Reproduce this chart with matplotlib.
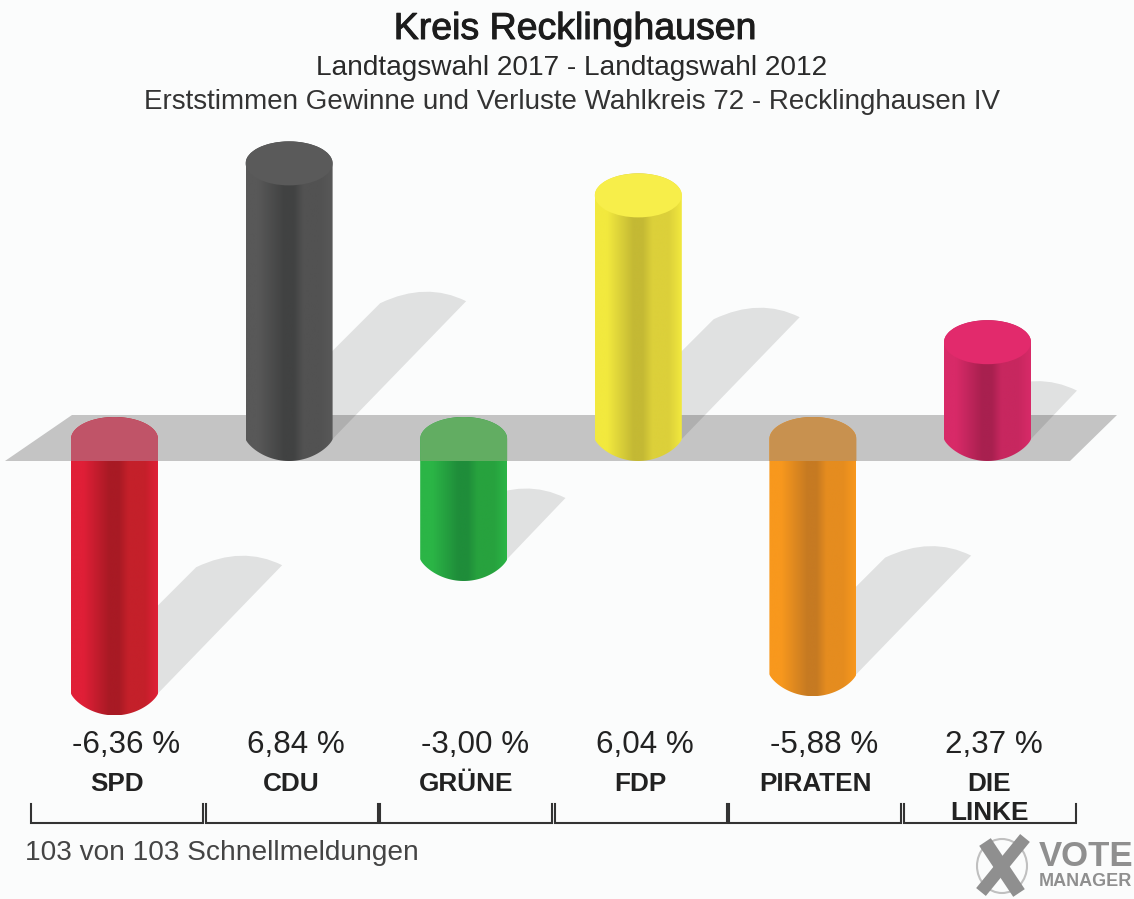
#!/usr/bin/env python3
# -*- coding: utf-8 -*-
import numpy as np
import matplotlib
matplotlib.use('Agg')
import matplotlib.pyplot as plt
import matplotlib.patheffects as pe
from matplotlib.colors import LinearSegmentedColormap
from matplotlib.path import Path
from matplotlib.patches import PathPatch, Polygon, Ellipse

plt.rcParams['font.family'] = ['Liberation Sans', 'DejaVu Sans']

# data
parties = ['SPD', 'CDU', 'GRÜNE', 'FDP', 'PIRATEN', 'DIE\nLINKE']
values = [-6.36, 6.84, -3.00, 6.04, -5.88, 2.37]
value_labels = ['-6,36 %', '6,84 %', '-3,00 %', '6,04 %', '-5,88 %', '2,37 %']
title = 'Kreis Recklinghausen'
subtitle1 = 'Landtagswahl 2017 - Landtagswahl 2012'
subtitle2 = 'Erststimmen Gewinne und Verluste Wahlkreis 72 - Recklinghausen IV'
footer = '103 von 103 Schnellmeldungen'

# colours: edge, centre, right side, top cap
edge_cols = ['#e01f37', '#585858', '#2bb546', '#f2e93e', '#f8981d', '#d82a68']
mid_cols = ['#a81a24', '#414242', '#1f8d3a', '#c4b934', '#c67a22', '#a8204f']
right_cols = ['#c4202a', '#525252', '#27a23e', '#dcd03a', '#e58c1f', '#c7275f']
cap_cols = ['#c05468', '#5a5a5a', '#62ad62', '#f7ee4a', '#c8914f', '#e22a6c']

# scales: 1 x unit = one party, 1 y unit = one percent point
W, H = 1134, 899
PX_X = 174.6
PX_Y = 40.0
X0 = 114.5
Y0 = 439.0

def py(p):
    # picture row -> value
    return (Y0 - p) / PX_Y

def dx(p):
    return p / PX_X

def dy(p):
    return p / PX_Y

fig = plt.figure(figsize=(W / 100, H / 100), dpi=100, facecolor='#fbfcfc')
ax = fig.add_axes([0, 0, 1, 1])
ax.set_xlim(-X0 / PX_X, (W - X0) / PX_X)
ax.set_ylim(py(H), py(0))
ax.axis('off')

# grey floor band
ax.add_patch(Polygon([(dx(5 - X0), py(461)), (dx(72 - X0), py(415)),
                      (dx(1117 - X0), py(415)), (dx(1070 - X0), py(461))],
                     closed=True, fc='#c4c4c4', ec='none', zorder=1))

half_w = dx(43.5)
ry = dy(22)
lift = dy(2)  # lids of rising columns sit a little higher

for i, v in enumerate(values):
    bar_h = abs(v) * PX_Y
    # shadow lying behind the bar
    base = min(v, 0)
    top = base + dy(0.5 * bar_h + 33 - 22)
    reach = 0.49 * bar_h + 43
    left = i + dx(reach - 86)
    verts = [(i, base),
             (i, top - dy(12) - dy(max(reach - 86, 0))),
             (left, top - dy(12)),
             (i + dx(reach - 40), top + dy(10)),
             (i + dx(reach), top - dy(10)),
             (i + half_w, base),
             (i, base)]
    codes = [Path.MOVETO, Path.LINETO, Path.LINETO, Path.CURVE3, Path.CURVE3,
             Path.LINETO, Path.CLOSEPOLY]
    ax.add_patch(PathPatch(Path(verts, codes), fc='black', alpha=0.105, ec='none', zorder=2))

    # cylinder body with side shading
    t = np.linspace(np.pi, 2 * np.pi, 60)
    low = min(v, 0)
    high = max(v, 0) + (lift if v >= 0 else 0)
    xs = i + half_w * np.cos(t)
    # bottom end comes to a sharper shoulder than a plain ellipse
    ys_low = low - ry * np.abs(np.sin(t)) ** 1.5
    ys_high = high + ry * np.abs(np.sin(t))
    outline = list(zip(xs, ys_low)) + list(zip(xs[::-1], ys_high[::-1]))
    clip = Polygon(outline, closed=True, transform=ax.transData, fc='none', ec='none')
    ax.add_patch(clip)
    cmap = LinearSegmentedColormap.from_list(
        'c%d' % i, [(0, edge_cols[i]), (0.14, edge_cols[i]), (0.44, mid_cols[i]),
                    (0.55, mid_cols[i]), (0.66, right_cols[i]), (0.85, right_cols[i]),
                    (1, edge_cols[i])])
    im = ax.imshow(np.linspace(0, 1, 256)[None, :], cmap=cmap, aspect='auto',
                   extent=(i - half_w, i + half_w, low - ry, high + ry),
                   interpolation='bilinear', zorder=3)
    im.set_clip_path(clip)

    if v >= 0:
        # lighter lid on top of the column
        ax.add_patch(Ellipse((i, high), 2 * half_w, 2 * ry, fc=cap_cols[i], ec='none', zorder=4))
    else:
        # upper part of a falling column seen through the band
        t2 = np.linspace(0, np.pi, 40)
        lid = list(zip(i + half_w * np.cos(t2), ry * np.sin(t2)))
        lid += [(i - half_w, py(461)), (i + half_w, py(461))]
        ax.add_patch(Polygon(lid, closed=True, fc=cap_cols[i], ec='none', zorder=4))

    # labels and group bracket
    ax.text(i - half_w + dx(1), py(745), value_labels[i], ha='left', va='center',
            fontsize=22.6, color='#222222')
    if '\n' in parties[i]:
        first, second = parties[i].split('\n')
        ax.text(i + dx(2), py(784), first, ha='center', va='center', fontsize=18.8,
                fontweight='bold', color='#222222')
        ax.text(i + dx(2), py(813), second, ha='center', va='center', fontsize=18.8,
                fontweight='bold', color='#222222')
    else:
        ax.text(i + dx(2.5), py(784), parties[i], ha='center', va='center', fontsize=18.8,
                fontweight='bold', color='#222222')
    x1 = i + dx(2.5) - dx(86)
    x2 = i + dx(2.5) + dx(86)
    ax.plot([x1, x1, x2, x2], [py(804), py(823), py(823), py(804)], color='#333333',
            lw=1.5, solid_joinstyle='miter', zorder=5)

# headings and footer
ax.text(dx(575 - X0), py(29), title, ha='center', va='center', fontsize=27, color='#1c1c1c',
        path_effects=[pe.withStroke(linewidth=0.7, foreground='#1c1c1c')])
ax.text(dx(572 - X0), py(68), subtitle1, ha='center', va='center', fontsize=20.2, color='#2a2a2a')
ax.text(dx(572 - X0), py(102), subtitle2, ha='center', va='center', fontsize=20, color='#333333')
ax.text(dx(25 - X0), py(853), footer, ha='left', va='center', fontsize=20.2, color='#444444')

# vote manager mark
logo_grey = '#8f8f8f'
ax.add_patch(Ellipse((dx(1002 - X0), py(866)), dx(50), dy(54), fc='none', ec='#c0c0c0', lw=1.5, zorder=5))
ax.plot([dx(985 - X0), dx(1019 - X0)], [py(842), py(893)], color=logo_grey, lw=10, solid_capstyle='butt', zorder=6)
ax.plot([dx(1025 - X0), dx(981 - X0)], [py(838), py(892)], color=logo_grey, lw=9, solid_capstyle='butt', zorder=6)
ax.text(dx(1039 - X0), py(857), 'VOTE', ha='left', va='center', fontsize=25, fontweight='bold', color=logo_grey)
ax.text(dx(1039 - X0), py(882), 'MANAGER', ha='left', va='center', fontsize=13, fontweight='bold', color=logo_grey)

ax.set_xlim(-X0 / PX_X, (W - X0) / PX_X)
ax.set_ylim(py(H), py(0))
fig.savefig('out.png', dpi=100, facecolor=fig.get_facecolor())
